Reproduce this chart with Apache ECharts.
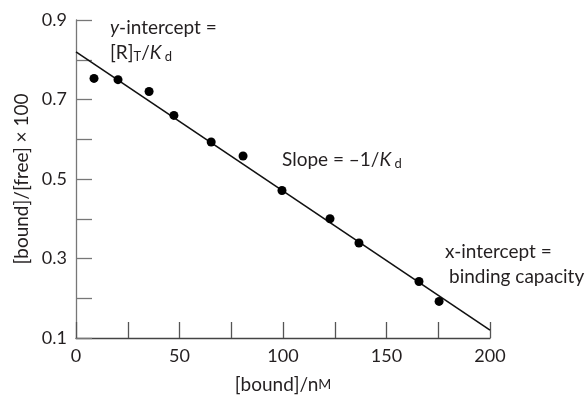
<!DOCTYPE html>
<html>
<head>
<meta charset="utf-8">
<script src="https://cdn.jsdelivr.net/npm/echarts@6/dist/echarts.min.js"></script>
<style>
  html, body { margin: 0; padding: 0; background: #fff; }
  #chart { width: 587px; height: 399px; }
</style>
</head>
<body>
<div id="chart"></div>
<script>
// measured points (bound nM, bound/free x 100)
var boundX = [8.7, 20.3, 35.3, 47.3, 65.3, 80.7, 99.5, 122.7, 136.7, 165.7, 175.4];
var ratioY = [0.753, 0.750, 0.720, 0.660, 0.593, 0.558, 0.471, 0.400, 0.339, 0.242, 0.192];
// fitted line end points
var fitX = [0, 200];
var fitY = [0.82, 0.12];
var xLabels = [0, 50, 100, 150, 200];
var yLabels = ['0.1', '0.3', '0.5', '0.7', '0.9'];

var FONT = 'Lato, "Open Sans", sans-serif';
var TXT = '#231f20';
var FS = 19;

var chartDom = document.getElementById('chart');
var myChart = echarts.init(chartDom);

var points = boundX.map(function (x, i) { return [x, ratioY[i]]; });
var fit = fitX.map(function (x, i) { return [x, fitY[i]]; });

var richItalic = { fontFamily: FONT, fontSize: FS, fontStyle: 'italic', fill: TXT };
var richSub = { fontFamily: FONT, fontSize: 13, fill: TXT, padding: [9, 0, 0, 0] };

var option = {
    backgroundColor: '#fff',
    animation: false,
    grid: { left: 76, right: 97, top: 20, bottom: 58 },
    xAxis: {
        type: 'value',
        min: 0, max: 200, interval: 25,
        name: '[bound]/n{sc|M}',
        nameLocation: 'middle',
        nameGap: 37,
        nameTextStyle: {
            fontFamily: FONT, fontSize: FS, color: TXT,
            rich: { sc: { fontFamily: FONT, fontSize: 14, color: TXT } }
        },
        axisLine: { lineStyle: { color: '#444', width: 1.3 } },
        axisTick: { inside: true, length: 16, lineStyle: { color: '#555', width: 1.3 } },
        axisLabel: {
            fontFamily: FONT, fontSize: 18, color: TXT, margin: 9,
            formatter: function (v) { return xLabels.indexOf(v) >= 0 ? String(v) : ''; }
        },
        splitLine: { show: false }
    },
    yAxis: {
        type: 'value',
        min: 0.1, max: 0.9, interval: 0.1,
        name: '[bound]/[free] × 100',
        nameLocation: 'middle',
        nameGap: 45,
        nameTextStyle: { fontFamily: FONT, fontSize: FS, color: TXT },
        axisLine: { show: true, lineStyle: { color: '#777', width: 1.3 } },
        axisTick: { show: true, inside: true, length: 16, lineStyle: { color: '#777', width: 1.3 } },
        axisLabel: {
            fontFamily: FONT, fontSize: 18, color: TXT, margin: 9,
            formatter: function (v) {
                var s = v.toFixed(1);
                return yLabels.indexOf(s) >= 0 ? s : '';
            }
        },
        splitLine: { show: false }
    },
    series: [
        {
            name: 'fit',
            type: 'line',
            data: fit,
            symbol: 'none',
            lineStyle: { color: '#111', width: 1.6 },
            z: 2
        },
        {
            name: 'data',
            type: 'scatter',
            data: points,
            symbol: 'circle',
            symbolSize: 9,
            itemStyle: { color: '#000', opacity: 1 },
            z: 3
        }
    ],
    graphic: [
        {
            type: 'text', left: 110, top: 18,
            style: {
                text: '{i|y}-intercept =',
                font: FS + 'px ' + FONT, fill: TXT,
                rich: { i: richItalic }
            }
        },
        {
            type: 'text', left: 110, top: 43,
            style: {
                text: '[R]{sub|T}/{i|K}{sub| d}',
                font: FS + 'px ' + FONT, fill: TXT,
                rich: { i: richItalic, sub: richSub }
            }
        },
        {
            type: 'text', left: 282, top: 150,
            style: {
                text: 'Slope = –1/{i|K}{sub| d}',
                font: FS + 'px ' + FONT, fill: TXT,
                rich: { i: richItalic, sub: richSub }
            }
        },
        {
            type: 'text', left: 445, top: 242,
            style: { text: 'x-intercept =', font: FS + 'px ' + FONT, fill: TXT }
        },
        {
            type: 'text', left: 449, top: 267,
            style: { text: 'binding capacity', font: FS + 'px ' + FONT, fill: TXT }
        }
    ]
};

option && myChart.setOption(option);
</script>
</body>
</html>
